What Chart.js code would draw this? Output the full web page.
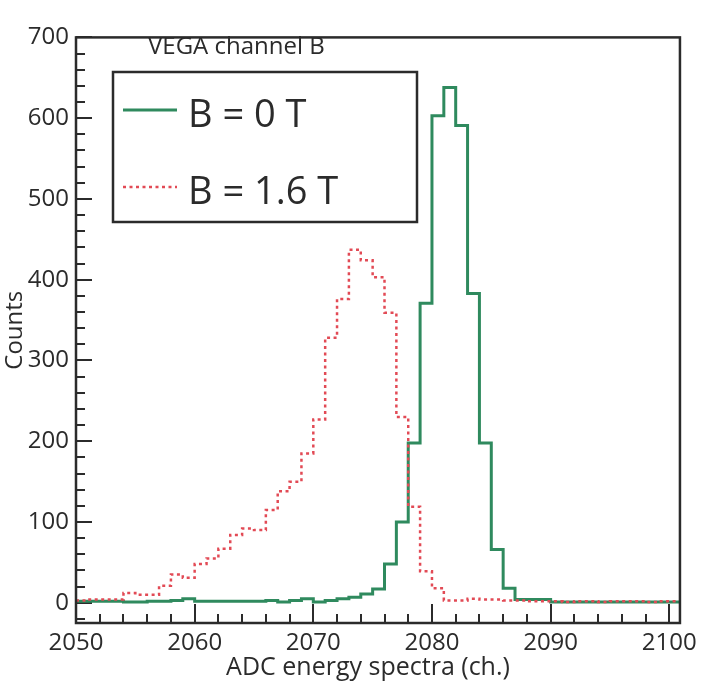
<!DOCTYPE html>
<html>
<head>
<meta charset="utf-8">
<script src="https://cdn.jsdelivr.net/npm/chart.js@4.4.1/dist/chart.umd.min.js"></script>
<style>
  html, body { margin: 0; padding: 0; background: #fff; }
  canvas { display: block; background: #fff; }
</style>
</head>
<body>
<canvas id="spectrum" width="722" height="688"></canvas>
<script>
// ADC channel of each bin's lower edge
const channels = [
    2050, 2051, 2052, 2053, 2054, 2055, 2056, 2057, 2058, 2059,
    2060, 2061, 2062, 2063, 2064, 2065, 2066, 2067, 2068, 2069,
    2070, 2071, 2072, 2073, 2074, 2075, 2076, 2077, 2078, 2079,
    2080, 2081, 2082, 2083, 2084, 2085, 2086, 2087, 2088, 2089,
    2090, 2091, 2092, 2093, 2094, 2095, 2096, 2097, 2098, 2099, 2100
];
const lastEdge = 2101;

// B = 0 T
const countsB0 = [
    2, 2, 2, 2, 1, 1, 2, 2, 3, 5,
    2, 2, 2, 2, 2, 2, 3, 1, 3, 5,
    1, 3, 5, 7, 11, 17, 48, 100, 198, 371,
    603, 638, 591, 383, 198, 66, 18, 4, 4, 4,
    1, 1, 1, 1, 1, 1, 1, 1, 1, 1, 1
];

// B = 1.6 T
const countsB16 = [
    3, 4, 4, 4, 12, 10, 10, 21, 35, 31,
    48, 55, 67, 84, 92, 90, 115, 138, 150, 185,
    227, 328, 376, 437, 424, 403, 359, 230, 119, 39,
    18, 3, 3, 5, 4, 4, 3, 3, 2, 2,
    2, 1, 2, 2, 1, 2, 2, 2, 1, 2, 2
];

const xTickValues = [2050, 2060, 2070, 2080, 2090, 2100];
const yTickValues = [0, 100, 200, 300, 400, 500, 600, 700];
const seriesLabels = ['B = 0 T', 'B = 1.6 T'];
const panelTitle = 'VEGA channel B';
const xAxisTitle = 'ADC energy spectra (ch.)';

const FONT = '"Open Sans", "DejaVu Sans", sans-serif';
const INK = '#2b2b2b';
const GREEN = '#2f8a5e';
const RED = '#e24a55';

// inward tick marks: long on labelled values, short in between
const X_MAJOR = 19, X_MINOR = 9;
const Y_MAJOR = 16, Y_MINOR = 9;

// step histogram: one point per bin edge, closing the last bin
function toSteps(counts) {
    const pts = channels.map((c, i) => ({ x: c, y: counts[i] }));
    pts.push({ x: lastEdge, y: counts[counts.length - 1] });
    return pts;
}

function xTicks() {
    const t = [];
    for (let v = 2050; v <= 2100; v += 2) t.push({ value: v });
    return t;
}
function yTicks() {
    const t = [];
    for (let v = -20; v <= 700; v += 20) t.push({ value: v });
    return t;
}
const isMinor = (c, list) => !!c.tick && !list.includes(c.tick.value);

// frame, panel label, x title and boxed legend
const annotations = {
    id: 'annotations',
    afterDraw(chart) {
        const { ctx, chartArea: a } = chart;
        ctx.save();
        ctx.setLineDash([]);
        ctx.fillStyle = INK;
        ctx.strokeStyle = INK;
        ctx.lineWidth = 2.5;
        ctx.strokeRect(a.left, a.top, a.right - a.left, a.bottom - a.top);

        ctx.textBaseline = 'middle';

        // x axis title (sits left of the plot centre in the original)
        ctx.font = '25px ' + FONT;
        ctx.textAlign = 'center';
        ctx.fillText(xAxisTitle, 368, 668);

        ctx.font = '24px ' + FONT;
        ctx.textAlign = 'left';
        ctx.fillText(panelTitle, 148, 47);

        const box = { l: 113, t: 72, r: 417, b: 222 };
        ctx.strokeRect(box.l, box.t, box.r - box.l, box.b - box.t);
        const rows = [110, 187];
        const ordered = chart.data.datasets.slice().sort((p, q) => p.legendIndex - q.legendIndex);
        ordered.forEach((ds, i) => {
            const ry = rows[i];
            ctx.strokeStyle = ds.borderColor;
            ctx.lineWidth = ds.borderWidth;
            ctx.setLineDash(ds.borderDash || []);
            ctx.beginPath();
            ctx.moveTo(123, ry);
            ctx.lineTo(177, ry);
            ctx.stroke();
            ctx.setLineDash([]);
            ctx.fillStyle = INK;
            ctx.font = '38px ' + FONT;
            ctx.fillText(ds.label, 188, ry + 6);
        });
        ctx.restore();
    }
};

new Chart(document.getElementById('spectrum').getContext('2d'), {
    type: 'line',
    data: {
        datasets: [
            {
                label: seriesLabels[1],
                legendIndex: 1,
                data: toSteps(countsB16),
                borderColor: RED,
                borderWidth: 2.5,
                borderDash: [3, 3.5],
                stepped: true,
                pointRadius: 0,
                fill: false,
                order: 0
            },
            {
                label: seriesLabels[0],
                legendIndex: 0,
                data: toSteps(countsB0),
                borderColor: GREEN,
                borderWidth: 3,
                stepped: true,
                pointRadius: 0,
                fill: false,
                order: 1
            }
        ]
    },
    options: {
        responsive: false,
        animation: false,
        layout: { padding: { top: 16, right: 16, left: 0, bottom: 0 } },
        plugins: { legend: { display: false }, tooltip: { enabled: false } },
        scales: {
            x: {
                type: 'linear',
                min: 2050,
                max: 2100.9,
                // tick marks only, pointing up into the plot
                grid: {
                    display: true,
                    drawOnChartArea: false,
                    drawTicks: true,
                    tickLength: -X_MAJOR,
                    lineWidth: 2,
                    color: INK,
                    tickBorderDash: c => isMinor(c, xTickValues) ? [X_MINOR, 40] : [],
                    tickBorderDashOffset: 0
                },
                border: { display: false },
                afterBuildTicks: s => { s.ticks = xTicks(); },
                afterFit: s => { s.height = 65; },
                ticks: {
                    autoSkip: false,
                    maxTicksLimit: 100,
                    color: INK,
                    padding: 6 + X_MAJOR,
                    maxRotation: 0,
                    font: { family: FONT, size: 24 },
                    callback: v => xTickValues.includes(v) ? String(v) : ''
                }
            },
            y: {
                type: 'linear',
                min: -25,
                max: 700,
                // drawn from the inner end towards the frame, so the short
                // marks keep only the last part of the stroke
                grid: {
                    display: true,
                    drawOnChartArea: false,
                    drawTicks: true,
                    tickLength: -Y_MAJOR,
                    lineWidth: 2,
                    color: INK,
                    tickBorderDash: c => isMinor(c, yTickValues) ? [Y_MINOR, Y_MAJOR - Y_MINOR] : [],
                    tickBorderDashOffset: c => isMinor(c, yTickValues) ? Y_MINOR : 0
                },
                border: { display: false },
                afterBuildTicks: s => { s.ticks = yTicks(); },
                afterFit: s => { s.width = 76; },
                ticks: {
                    autoSkip: false,
                    maxTicksLimit: 100,
                    color: INK,
                    padding: 7 + Y_MAJOR,
                    font: { family: FONT, size: 24 },
                    callback: v => yTickValues.includes(v) ? String(v) : ''
                },
                title: {
                    display: true,
                    text: 'Counts',
                    color: INK,
                    font: { family: FONT, size: 24 },
                    padding: { top: 1, bottom: 0 }
                }
            }
        }
    },
    plugins: [annotations]
});
</script>
</body>
</html>
